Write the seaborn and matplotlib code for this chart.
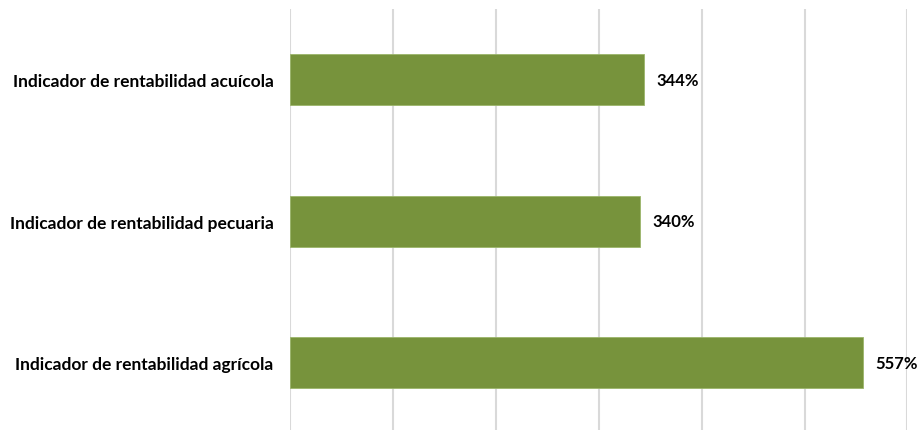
import matplotlib
matplotlib.use("Agg")
import matplotlib.pyplot as plt
import seaborn as sns
import pandas as pd

categories = ["Indicador de rentabilidad acuícola",
              "Indicador de rentabilidad pecuaria",
              "Indicador de rentabilidad agrícola"]
values = [344, 340, 557]
value_labels = ["344%", "340%", "557%"]

df = pd.DataFrame({"cat": categories, "val": values})

sns.set_theme(style="white")
plt.rcParams['font.family'] = ['Lato', 'DejaVu Sans']

fig = plt.figure(figsize=(9.19, 4.31), dpi=100)
ax = fig.add_axes([0.316, -0.008, 0.6713, 0.9849])

sns.barplot(data=df, y="cat", x="val", orient="h", color="#77933C",
            saturation=1, width=0.36, ax=ax, edgecolor="#9BB56A", linewidth=0.6)

ax.set_xlim(0, 600)
ax.set_ylim(2.5, -0.5)
ax.set_xticks([0, 100, 200, 300, 400, 500, 600])
ax.xaxis.grid(True, color="#D9D9D9", linewidth=1.5)
ax.set_axisbelow(True)
ax.tick_params(axis="x", length=0, labelbottom=False)
ax.tick_params(axis="y", length=0, pad=12)
for s in ax.spines.values():
    s.set_visible(False)
ax.set_xlabel("")
ax.set_ylabel("")
for lbl in ax.get_yticklabels():
    lbl.set_fontweight("bold")
    lbl.set_fontsize(12.5)
    lbl.set_color("black")

for i, (v, t) in enumerate(zip(values, value_labels)):
    ax.annotate(t, xy=(v, i), xytext=(9, 0), textcoords="offset points",
                va="center", ha="left", fontsize=12, fontweight="bold",
                color="black", annotation_clip=False)

fig.savefig("out.png", dpi=100)
